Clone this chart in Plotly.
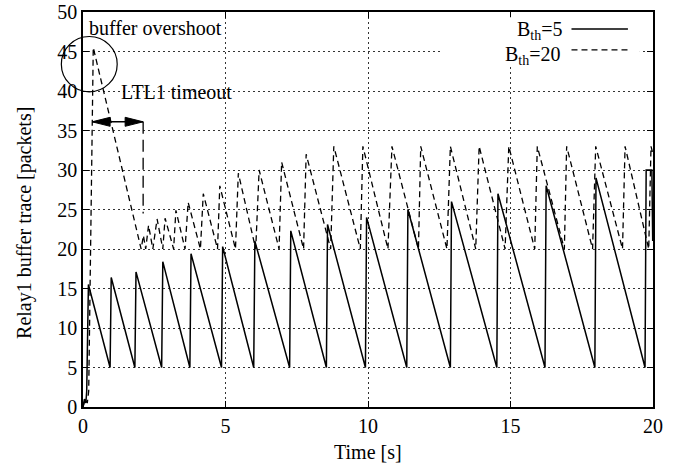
import plotly.graph_objects as go

# ---------------- data ----------------
time_bth5 = [0, 0.05, 0.10, 0.13, 0.19,
             0.95, 0.99, 1.82, 1.86, 2.76, 2.80, 3.75, 3.79, 4.86, 4.90,
             5.99, 6.03, 7.25, 7.29, 8.54, 8.58, 9.91, 9.95, 11.36, 11.40,
             12.89, 12.93, 14.52, 14.56, 16.21, 16.25, 17.96, 18.00, 19.72, 19.76,
             19.96, 19.99]
buf_bth5 = [0, 1, 0.5, 2, 15.5,
            5, 16.4, 5, 17.1, 5, 18.4, 5, 19.4, 5, 20.3,
            5, 21.0, 5, 22.3, 5, 23.1, 5, 24.0, 5, 25.0,
            5, 26.0, 5, 27.0, 5, 28.0, 5, 29.0, 5, 30.0,
            30.0, 21]

time_bth20 = [0, 0.08, 0.15, 0.20, 0.36, 1.18,
              2.04, 2.12, 2.20, 2.30, 2.45, 2.60, 2.80, 2.88,
              3.18, 3.26, 3.58, 3.69, 4.12, 4.22, 4.72, 4.80,
              5.35, 5.45, 6.06, 6.18, 6.88, 6.97, 7.74, 7.83,
              8.69, 8.80, 9.73, 9.82, 10.70, 10.84, 11.77, 11.85,
              12.77, 12.89, 13.78, 13.90, 14.81, 14.94, 15.85, 15.94,
              16.89, 16.97, 17.88, 17.99, 18.93, 19.02, 19.85, 19.93,
              20.0]
buf_bth20 = [0, 1, 0.5, 2, 45.5, 33,
             20, 21.7, 20, 23, 20, 23.8, 20, 23.9,
             20, 24.9, 20, 25.9, 20, 27, 20, 28,
             20, 29.6, 20, 30, 20, 31, 20, 32,
             20, 33, 20, 33, 20, 33, 20, 33,
             20, 33, 20, 33, 20, 33, 20, 33,
             20, 33, 20, 33, 20, 33, 20, 33,
             32]

x_ticks = [0, 5, 10, 15, 20]
y_ticks = [0, 5, 10, 15, 20, 25, 30, 35, 40, 45, 50]
series_names = ["B<sub>th</sub>=5", "B<sub>th</sub>=20"]

X_RANGE = [0, 20]
Y_RANGE = [0, 50]

# annotation anchors (data units)
timeout_start, timeout_end, timeout_level = 0.32, 2.11, 36.1
timeout_marker_bottom = 24.5
overshoot_center = (0.22, 43.4)
overshoot_radius = (0.98, 3.5)

FONT = "Liberation Serif, Times New Roman, serif"
W, H = 674, 468
ML, MR, MT, MB = 83, 21, 12, 61
PW = W - ML - MR
PH = H - MT - MB


def px(x):
    return (x - X_RANGE[0]) / (X_RANGE[1] - X_RANGE[0])


def py(y):
    return (y - Y_RANGE[0]) / (Y_RANGE[1] - Y_RANGE[0])


fig = go.Figure()
fig.add_trace(go.Scatter(x=time_bth5, y=buf_bth5, mode="lines",
                         line=dict(color="black", width=1.5),
                         name=series_names[0], showlegend=False))
fig.add_trace(go.Scatter(x=time_bth20, y=buf_bth20, mode="lines",
                         line=dict(color="black", width=1.3, dash="6px,4px"),
                         name=series_names[1], showlegend=False))

shapes = []
# white key box hiding the grid (paper coords: plot area is paper 0..1)
shapes.append(dict(type="rect", xref="paper", yref="paper",
                   x0=0.631, x1=0.977, y0=0.866, y1=0.987,
                   fillcolor="white", line=dict(width=0), layer="above"))
# key samples
shapes.append(dict(type="line", xref="paper", yref="paper",
                   x0=0.857, x1=0.956, y0=0.957, y1=0.957,
                   line=dict(color="black", width=1.5)))
shapes.append(dict(type="line", xref="paper", yref="paper",
                   x0=0.857, x1=0.956, y0=0.904, y1=0.904,
                   line=dict(color="black", width=1.3, dash="6px,4px")))
# overshoot circle
cx, cy = overshoot_center
rx, ry = overshoot_radius
shapes.append(dict(type="circle", xref="paper", yref="paper",
                   x0=px(cx - rx), x1=px(cx + rx), y0=py(cy - ry), y1=py(cy + ry),
                   line=dict(color="black", width=1.2)))
# timeout marker
shapes.append(dict(type="line", xref="x", yref="y",
                   x0=timeout_end, x1=timeout_end,
                   y0=timeout_level, y1=timeout_marker_bottom,
                   line=dict(color="black", width=1.3, dash="12px,6px")))
# double arrow
shapes.append(dict(type="line", xref="x", yref="y",
                   x0=timeout_start, x1=timeout_end,
                   y0=timeout_level, y1=timeout_level,
                   line=dict(color="black", width=1.5)))
head_len = 18 * (X_RANGE[1] - X_RANGE[0]) / PW
head_half = 4.5 * (Y_RANGE[1] - Y_RANGE[0]) / PH
for tip, back in [(timeout_end, timeout_end - head_len),
                  (timeout_start, timeout_start + head_len)]:
    path = (f"M {tip},{timeout_level} L {back},{timeout_level + head_half} "
            f"L {back},{timeout_level - head_half} Z")
    shapes.append(dict(type="path", xref="x", yref="y", path=path,
                       fillcolor="black", line=dict(color="black", width=1)))

tfont = dict(family=FONT, size=20, color="black")
annotations = [
    dict(text="buffer overshoot", x=0.14, y=48.0, xref="x", yref="y",
         xanchor="left", yanchor="middle", showarrow=False, font=tfont),
    dict(text="LTL1 timeout", x=1.26, y=39.9, xref="x", yref="y",
         xanchor="left", yanchor="middle", showarrow=False, font=tfont),
    dict(text=series_names[0], x=0.845, y=0.952, xref="paper", yref="paper",
         xanchor="right", yanchor="middle", showarrow=False, font=tfont),
    dict(text=series_names[1], x=0.842, y=0.891, xref="paper", yref="paper",
         xanchor="right", yanchor="middle", showarrow=False, font=tfont),
    dict(text="Relay1 buffer trace [packets]", x=-0.1017, y=0.466,
         xref="paper", yref="paper", textangle=-90,
         xanchor="center", yanchor="middle", showarrow=False, font=tfont),
    dict(text="Time [s]", x=0.5, y=-0.114, xref="paper", yref="paper",
         xanchor="center", yanchor="middle", showarrow=False, font=tfont),
]

axis_common = dict(showline=True, linecolor="black", linewidth=1.5,
                   mirror="ticks", ticks="inside", ticklen=6, tickwidth=1,
                   tickcolor="black", showgrid=True, gridcolor="#333333",
                   gridwidth=1, griddash="2px,3px", zeroline=False,
                   automargin=False,
                   tickfont=dict(family=FONT, size=20, color="black"))

fig.update_layout(
    width=W, height=H,
    margin=dict(l=ML, r=MR, t=MT, b=MB),
    paper_bgcolor="white", plot_bgcolor="white",
    showlegend=False,
    xaxis=dict(range=X_RANGE, tickvals=x_ticks, **axis_common),
    yaxis=dict(range=Y_RANGE, tickvals=y_ticks, **axis_common),
    shapes=shapes,
    annotations=annotations,
)

fig.write_html("out.html")
